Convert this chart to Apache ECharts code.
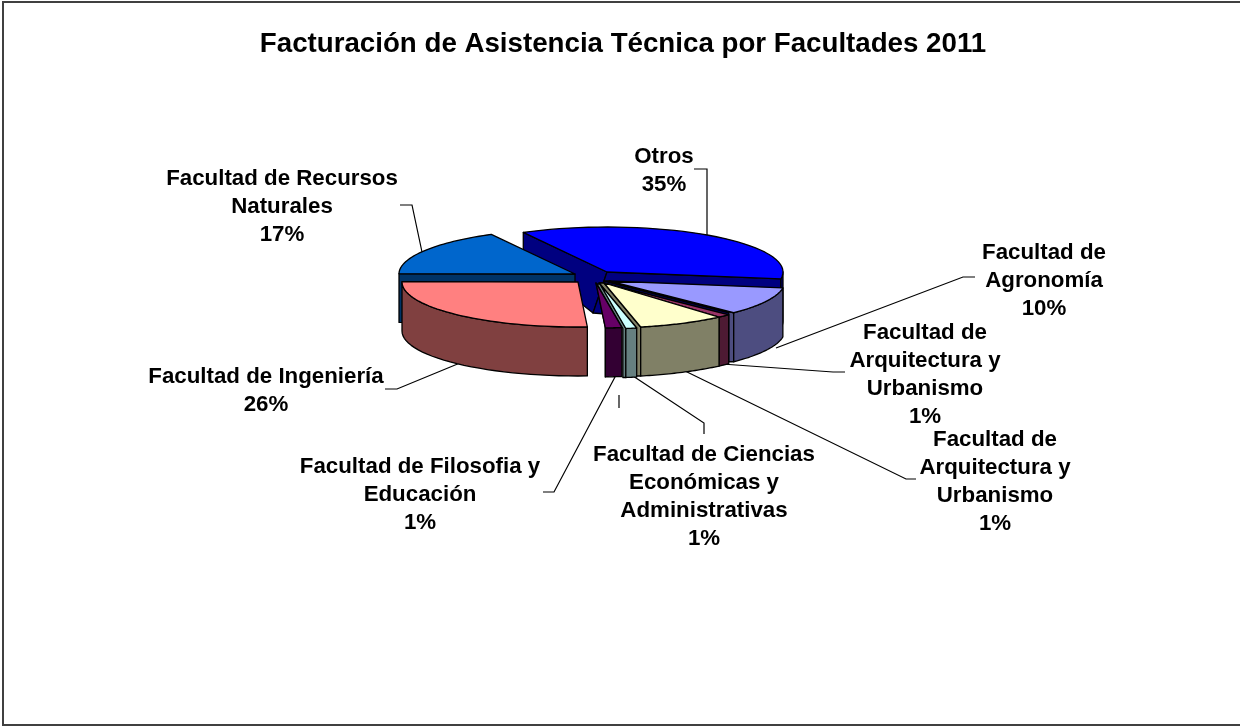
<!DOCTYPE html>
<html>
<head>
<meta charset="utf-8">
<script src="https://cdn.jsdelivr.net/npm/echarts@6/dist/echarts.min.js"></script>
<style>
  html, body { margin: 0; padding: 0; background: #fff; }
  #chart { width: 1240px; height: 726px; }
</style>
</head>
<body>
<div id="chart"></div>
<script>
var titleText = "Facturación de Asistencia Técnica por Facultades 2011";

// clockwise from the back left of the pie
var categories = [
  "Otros",
  "Facultad de Agronomía",
  "Facultad de Arquitectura y Urbanismo",
  "Facultad de Arquitectura y Urbanismo",
  "Facultad de Ciencias Económicas y Administrativas",
  "Facultad de Filosofia y Educación",
  "Facultad de Ingeniería",
  "Facultad de Recursos Naturales"
];
// share of the pie as drawn
var shares = [35.4, 10, 1.2, 8, 1, 1.5, 26, 17];
// percentages as printed on the labels (the yellow slice is drawn near 8% but labelled 1%)
var printedPercents = [35, 10, 1, 1, 1, 1, 26, 17];

var labelLines = [
  ["Otros"],
  ["Facultad de", "Agronomía"],
  ["Facultad de", "Arquitectura y", "Urbanismo"],
  ["Facultad de", "Arquitectura y", "Urbanismo"],
  ["Facultad de Ciencias", "Económicas y", "Administrativas"],
  ["Facultad de Filosofia y", "Educación"],
  ["Facultad de Ingeniería"],
  ["Facultad de Recursos", "Naturales"]
];

// look of the slices
var topColors = ["#0000ff", "#9999ff", "#993366", "#ffffcc", "#ccffff", "#660066", "#ff8080", "#0066cc"];
var wallColors = ["#000080", "#4d4d80", "#4d1a33", "#808066", "#668080", "#330033", "#804040", "#003366"];
var apexes = [[607, 272], [609, 281], [604, 283], [604, 283], [600, 284], [596, 283], [578, 282], [575, 274]];
var sideWidths = [0, 5, 5, 5, 3, 0, 0, 0];
var drawOrder = [0, 7, 1, 2, 3, 4, 5, 6];

var labelAnchors = [[664, 143], [1044, 239], [925, 319], [995, 426], [704, 441], [420, 453], [266, 363], [282, 165]];
var leaders = [
  [[694, 169], [707, 169], [707, 235]],
  [[975, 277], [963, 277], [776, 348]],
  [[845, 372], [833, 372], [722, 364]],
  [[916, 479], [906, 479], [683, 370]],
  [[704, 434], [704, 423], [633, 376]],
  [[543, 492], [554, 492], [615, 377]],
  [[385, 389], [397, 389], [460, 363]],
  [[400, 205], [412, 205], [422, 252]],
  [[619, 395], [619, 408]]
];

var startAngle = 241.6;
var radiusX = 176, radiusY = 45;

var total = shares.reduce(function (a, b) { return a + b; }, 0);
var angles = [];
var running = startAngle;
shares.forEach(function (s) {
  var sweep = s / total * 360;
  angles.push([running, running + sweep]);
  running += sweep;
});

function rimPoint(i, deg) {
  var r = deg * Math.PI / 180;
  return [apexes[i][0] + radiusX * Math.cos(r), apexes[i][1] + radiusY * Math.sin(r)];
}

// the back of the pie has less visible depth than the front
function depthAt(deg) {
  var s = Math.sin(deg * Math.PI / 180);
  return s < 0 ? 49 + 27 * s : 49;
}

function poly(points, fill) {
  return {
    type: "polygon",
    shape: { points: points },
    style: { fill: fill, stroke: "#000", lineWidth: 1.3, lineJoin: "round" }
  };
}

function rimWall(i, from, to) {
  var top = [], bottom = [];
  for (var k = 0; k <= 30; k++) {
    var deg = from + (to - from) * k / 30;
    var p = rimPoint(i, deg);
    top.push(p);
    bottom.unshift([p[0], p[1] + depthAt(deg)]);
  }
  return poly(top.concat(bottom), wallColors[i]);
}

function renderSlice(params, api) {
  var i = api.value(0);
  var a = angles[i][0], b = angles[i][1];
  var apex = apexes[i];
  var children = [];

  // inner walls
  var startPt = rimPoint(i, a), endPt = rimPoint(i, b);
  if (i === 0) {
    // Otros is the only slice showing both cut faces
    var apexBottom = [593, 313];
    children.push(poly([apex, startPt, [startPt[0], startPt[1] + depthAt(a)], apexBottom], wallColors[i]));
    children.push(poly([apex, endPt, [endPt[0], endPt[1] + depthAt(b)], apexBottom], wallColors[i]));
  } else if (i === 7) {
    children.push(poly([apex, startPt, [startPt[0], startPt[1] + depthAt(a)], [apex[0], apex[1] + depthAt(a)]], wallColors[i]));
  } else if (i !== 6) {
    var w = sideWidths[i];
    var endBottom = endPt[1] + depthAt(b);
    children.push(poly([
      apex, endPt, [endPt[0], endBottom], [endPt[0] - w, endBottom], [endPt[0] - w, endPt[1]], [apex[0] - w, apex[1]]
    ], wallColors[i]));
  }

  // outer wall, only the part that faces the viewer
  [[0, 180], [360, 540]].forEach(function (range) {
    var from = Math.max(a, range[0]), to = Math.min(b, range[1]);
    if (to > from) children.push(rimWall(i, from, to));
  });

  // top face
  var face = [apex];
  for (var k = 0; k <= 40; k++) face.push(rimPoint(i, a + (b - a) * k / 40));
  children.push(poly(face, topColors[i]));

  return { type: "group", children: children };
}

function renderLeader(params, api) {
  return {
    type: "polyline",
    shape: { points: leaders[api.value(0)] },
    style: { fill: null, stroke: "#000", lineWidth: 1.2 }
  };
}

function renderLabel(params, api) {
  var i = api.value(0);
  return {
    type: "text",
    style: {
      text: labelLines[i].concat(printedPercents[i] + "%").join("\n"),
      x: labelAnchors[i][0],
      y: labelAnchors[i][1],
      align: "center",
      verticalAlign: "top",
      lineHeight: 28,
      fill: "#000",
      font: "bold 22.3px 'Liberation Sans', Arial, sans-serif"
    }
  };
}

var chart = echarts.init(document.getElementById("chart"), null, { renderer: "canvas" });
chart.setOption({
  animation: false,
  backgroundColor: "#fff",
  title: {
    text: titleText,
    left: 618,
    top: 25,
    textAlign: "center",
    textStyle: { fontFamily: "'Liberation Sans', Arial, sans-serif", fontSize: 27.7, fontWeight: "bold", color: "#000" }
  },
  // the frame has no right side in the reference
  graphic: [{
    type: "polyline",
    silent: true,
    shape: { points: [[1240, 2], [3, 2], [3, 725], [1240, 725]] },
    style: { fill: null, stroke: "#404040", lineWidth: 2 }
  }],
  series: [
    { type: "custom", coordinateSystem: "none", silent: true, clip: false, data: leaders.map(function (l, i) { return [i]; }), renderItem: renderLeader, z: 1 },
    { type: "custom", coordinateSystem: "none", silent: true, clip: false, data: drawOrder.map(function (i) { return [i]; }), renderItem: renderSlice, z: 2 },
    { type: "custom", coordinateSystem: "none", silent: true, clip: false, data: categories.map(function (c, i) { return [i]; }), renderItem: renderLabel, z: 3 }
  ]
});
</script>
</body>
</html>
